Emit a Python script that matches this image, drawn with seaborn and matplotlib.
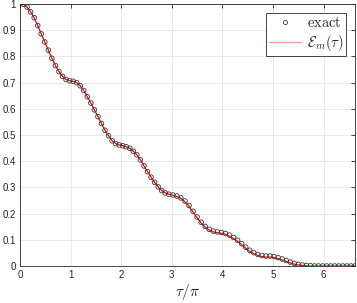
import matplotlib
matplotlib.use("Agg")
import matplotlib.pyplot as plt
import seaborn as sns
import pandas as pd
from matplotlib.lines import Line2D

# tau / pi positions of the samples
tau_over_pi = [0.00, 0.07, 0.14, 0.21, 0.28, 0.35, 0.42, 0.49, 0.56, 0.63,
               0.70, 0.77, 0.84, 0.91, 0.98, 1.05, 1.12, 1.19, 1.26, 1.33,
               1.40, 1.47, 1.54, 1.61, 1.68, 1.75, 1.82, 1.89, 1.96, 2.03,
               2.10, 2.17, 2.24, 2.31, 2.38, 2.45, 2.52, 2.59, 2.66, 2.73,
               2.80, 2.87, 2.94, 3.02, 3.10, 3.18, 3.26, 3.34, 3.42, 3.50,
               3.58, 3.66, 3.74, 3.82, 3.90, 3.98, 4.06, 4.14, 4.22, 4.30,
               4.38, 4.46, 4.54, 4.62, 4.70, 4.78, 4.86, 4.94, 5.02, 5.10,
               5.18, 5.26, 5.34, 5.42, 5.50, 5.58, 5.66, 5.74, 5.82, 5.90,
               5.98, 6.06, 6.14, 6.22, 6.30, 6.38, 6.46, 6.54, 6.62]

exact = [1.000, 0.999, 0.988, 0.970, 0.948, 0.918, 0.886, 0.855, 0.824, 0.793,
         0.765, 0.742, 0.724, 0.712, 0.707, 0.705, 0.700, 0.688, 0.670, 0.646,
         0.622, 0.596, 0.570, 0.544, 0.518, 0.497, 0.478, 0.467, 0.462, 0.459,
         0.455, 0.449, 0.438, 0.424, 0.405, 0.382, 0.360, 0.339, 0.319, 0.302,
         0.288, 0.279, 0.274, 0.271, 0.267, 0.260, 0.248, 0.231, 0.209, 0.187,
         0.167, 0.151, 0.140, 0.133, 0.130, 0.128, 0.124, 0.118, 0.109, 0.098,
         0.085, 0.072, 0.060, 0.051, 0.044, 0.040, 0.038, 0.038, 0.036, 0.032,
         0.027, 0.021, 0.015, 0.010, 0.006, 0.004, 0.002, 0.001, 0.000, 0.000,
         0.000, 0.000, 0.000, 0.000, 0.000, 0.000, 0.000, 0.000, 0.000]

approx = [1.000, 0.999, 0.988, 0.970, 0.948, 0.918, 0.886, 0.855, 0.824, 0.793,
          0.765, 0.742, 0.724, 0.712, 0.707, 0.705, 0.700, 0.688, 0.670, 0.646,
          0.622, 0.596, 0.570, 0.544, 0.518, 0.497, 0.478, 0.467, 0.462, 0.459,
          0.455, 0.449, 0.438, 0.424, 0.405, 0.382, 0.360, 0.339, 0.319, 0.302,
          0.288, 0.279, 0.274, 0.270, 0.265, 0.258, 0.245, 0.228, 0.206, 0.184,
          0.164, 0.148, 0.137, 0.130, 0.127, 0.125, 0.121, 0.114, 0.105, 0.094,
          0.081, 0.068, 0.056, 0.047, 0.040, 0.036, 0.034, 0.034, 0.032, 0.028,
          0.023, 0.017, 0.012, 0.007, 0.004, 0.002, 0.001, 0.000, 0.000, 0.000,
          0.000, 0.000, 0.000, 0.000, 0.000, 0.000, 0.000, 0.000, 0.000]

x_ticks = [0, 1, 2, 3, 4, 5, 6]
y_ticks = [0, 0.1, 0.2, 0.3, 0.4, 0.5, 0.6, 0.7, 0.8, 0.9, 1]
y_tick_labels = ["0", "0.1", "0.2", "0.3", "0.4", "0.5", "0.6", "0.7", "0.8", "0.9", "1"]

sns.set_style("white")
plt.rcParams["font.family"] = ["Liberation Sans", "DejaVu Sans"]
plt.rcParams["mathtext.fontset"] = "cm"

df = pd.DataFrame({"t": tau_over_pi, "exact": exact, "approx": approx})

fig = plt.figure(figsize=(3.57, 3.03), dpi=100)
ax = fig.add_axes([20 / 357, 37 / 303, 335 / 357, 262 / 303])

sns.lineplot(data=df, x="t", y="approx", ax=ax, color="#ff0000", linewidth=0.9,
             zorder=2, legend=False)
sns.scatterplot(data=df, x="t", y="exact", ax=ax, marker="o", s=11,
                facecolors="none", edgecolor="#3a3a3a", linewidth=0.6,
                zorder=3, legend=False)

ax.set_xlim(0, 6.62)
ax.set_ylim(0, 1)
ax.set_xticks(x_ticks)
ax.set_xticklabels([str(v) for v in x_ticks])
ax.set_yticks(y_ticks)
ax.set_yticklabels(y_tick_labels)
ax.grid(True, color="#e6e6e6", linewidth=0.6)
ax.set_axisbelow(True)
ax.tick_params(axis="both", direction="in", length=3, width=0.6,
               labelsize=7, colors="#262626", top=True, right=True,
               labelcolor="#262626", pad=3)
for s in ax.spines.values():
    s.set_visible(True)
    s.set_color("#262626")
    s.set_linewidth(0.6)

ax.set_xlabel(r"$\tau/\pi$", fontsize=11, color="#262626", labelpad=1)
ax.set_ylabel("")

handles = [
    Line2D([], [], linestyle="none", marker="o", markersize=3,
           markerfacecolor="none", markeredgecolor="#3a3a3a", markeredgewidth=0.6),
    Line2D([], [], color="#ff9a9a", linewidth=1.0),
]
labels = [r"$\mathrm{exact}$", r"$\mathcal{E}_m(\tau)$"]
leg = ax.legend(handles, labels, loc="upper right", fontsize=10.5,
                frameon=True, fancybox=False, edgecolor="#262626",
                framealpha=1, bbox_to_anchor=(1 - 9 / 335, 1 - 9 / 262),
                borderaxespad=0.0, handlelength=2.2,
                handletextpad=0.35, borderpad=0.2, labelspacing=0.2)
leg.get_frame().set_linewidth(0.6)

fig.savefig("out.png", dpi=100)
